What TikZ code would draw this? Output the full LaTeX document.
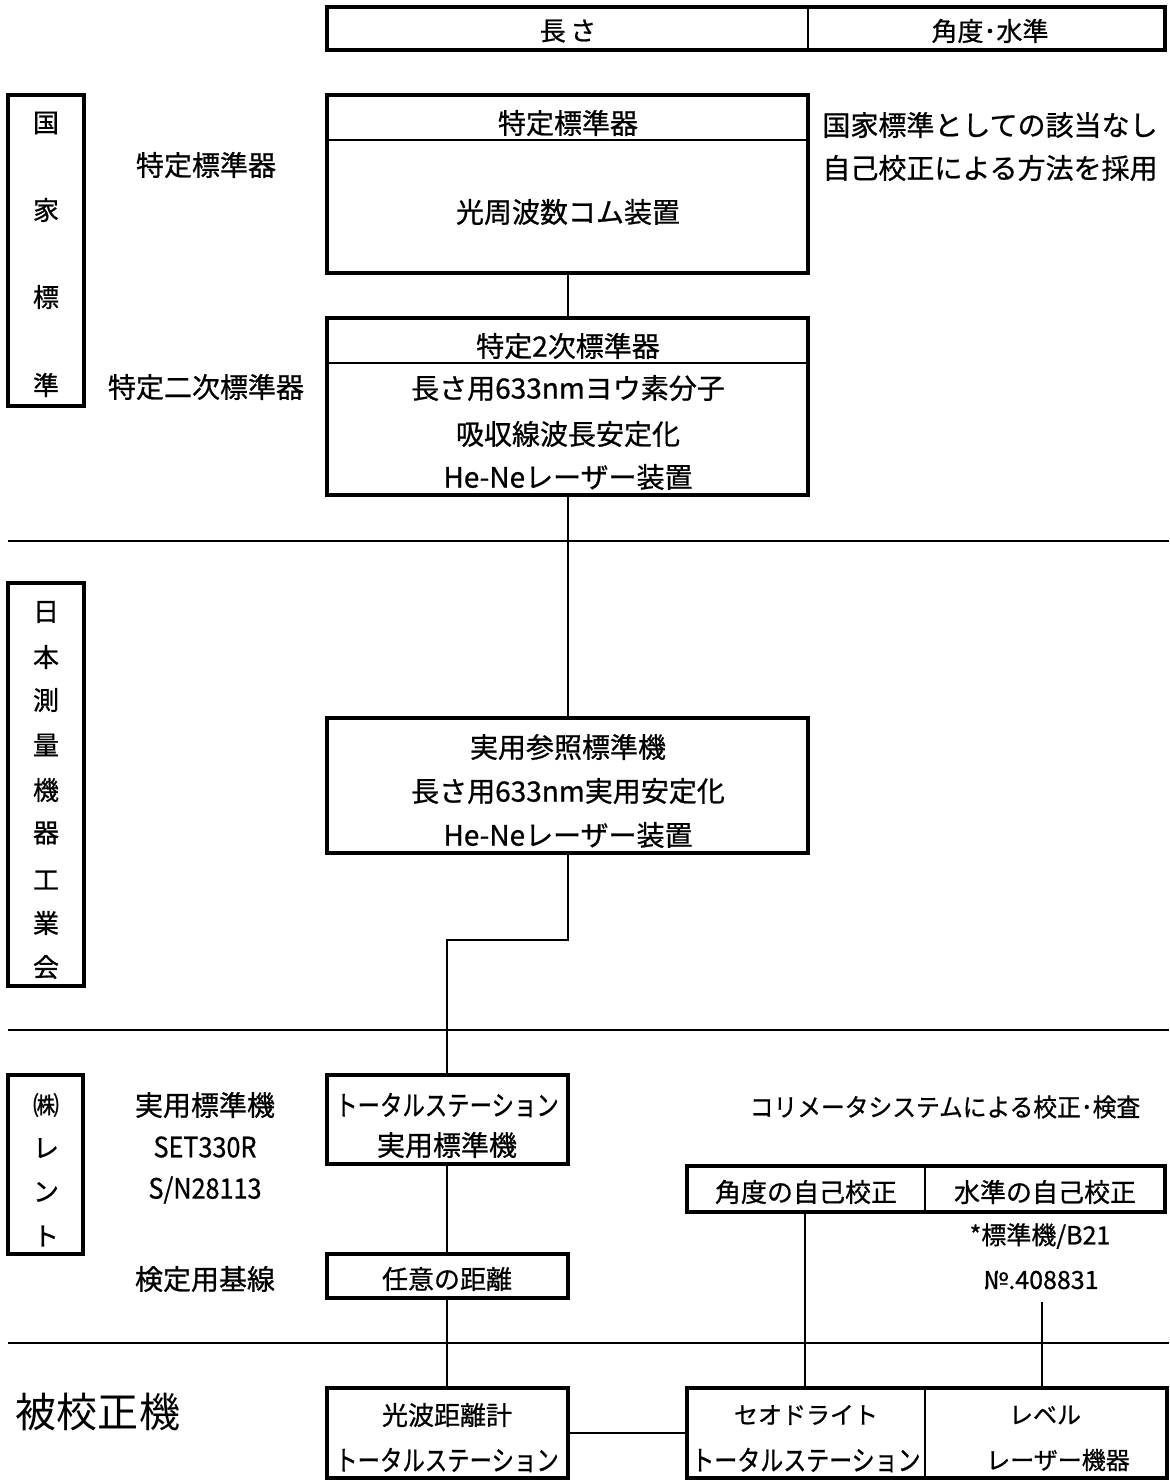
\documentclass[tikz,border=0pt]{standalone}
\usepackage{fontspec}
\setmainfont{Noto Sans CJK JP}
\newfontfamily\medfont{Noto Sans CJK JP}[FakeBold=0.8]
\begin{document}
\begin{tikzpicture}[x=0.5pt,y=-0.5pt,
  box/.style={draw, line width=2pt, inner sep=0pt},
  thin/.style={line width=1pt},
  conn/.style={line width=1pt},
  sep/.style={line width=1pt},
  tx/.style={inner sep=0pt, font=\medfont\fontsize{14}{16}\selectfont},
  tm/.style={inner sep=0pt, font=\medfont\fontsize{13}{14}\selectfont},
  tsm/.style={inner sep=0pt, font=\medfont\fontsize{12.5}{14}\selectfont},
  big/.style={inner sep=0pt, font=\fontsize{20.5}{22}\selectfont}]
\useasboundingbox (0,0) rectangle (1169,1482);

% ---- top header ----
\node[box, minimum width=419pt, minimum height=21.5pt] (top) at (746,28.5) {};
\coordinate (d1) at (808,0);
\draw[line width=1.4pt] (top.north -| d1) -- (top.south -| d1);
\node[tm] (tlen) at (568,31) {長\,さ};
\node[tm] (tang) at (990,31) {角度･水準};

% ---- left category boxes ----
\node[box, minimum width=38pt, minimum height=155.5pt] (L1) at (46,250.5) {};
\foreach \c/\y [count=\i] in {国/123,家/210,標/297,準/385}
  \node[tm] (L1c\i) at (46,\y) {\c};
\node[box, minimum width=38pt, minimum height=201.5pt] (L2) at (46,784.5) {};
\foreach \c/\y [count=\i] in {日/612,本/657,測/700,量/745,機/790,器/833,工/880,業/923,会/967}
  \node[tm] (L2c\i) at (46,\y) {\c};
\node[box, minimum width=37.5pt, minimum height=89.5pt] (L3) at (45.5,1164.5) {};
\foreach \c/\y [count=\i] in {㈱/1105,レ/1148,ン/1192,ト/1236}
  \node[tm] (L3c\i) at (46,\y) {\c};

% ---- left labels ----
\node[tx] (lab1) at (206,165) {特定標準器};
\node[tx] (lab2) at (206,387) {特定二次標準器};
\node[tx] (lab3) at (205,1105) {実用標準機};
\node[tx] (lab4) at (205,1147) {\scalebox{0.9}[1]{SET330R}};
\node[tx] (lab5) at (205,1190) {\scalebox{0.9}[1]{S/N28113}};
\node[tx] (lab6) at (205,1279) {検定用基線};
\node[big] (lab7) at (98,1412) {被校正機};

% ---- right notes ----
\node[tx] (n1) at (990,125) {国家標準としての該当なし};
\node[tx] (n2) at (990,168) {自己校正による方法を採用};
\node[tsm] (n3) at (945,1107) {\scalebox{0.95}[1]{コリメータシステムによる校正･検査}};

% ---- separators ----
\coordinate (s1a) at (8,541);   \coordinate (s1b) at (1169,541);
\coordinate (s2a) at (8,1030);  \coordinate (s2b) at (1169,1030);
\coordinate (s3a) at (8,1343);  \coordinate (s3b) at (1169,1343);
\draw[sep] (s1a) -- (s1b);
\draw[sep] (s2a) -- (s2b);
\draw[sep] (s3a) -- (s3b);

% ---- 特定標準器 ----
\node[box, minimum width=240.5pt, minimum height=89pt] (sb) at (567.5,184) {};
\coordinate (h1) at (0,140);
\draw[thin] (sb.west |- h1) -- (sb.east |- h1);
\node[tx] (sbt1) at (568,123) {特定標準器};
\node[tx] (sbt2) at (568,212) {光周波数コム装置};

% ---- 特定2次標準器 ----
\node[box, minimum width=240.5pt, minimum height=88.5pt] (s2) at (567.5,406.5) {};
\coordinate (h2) at (0,363);
\draw[thin] (s2.west |- h2) -- (s2.east |- h2);
\node[tx] (s2t1) at (568,346) {特定2次標準器};
\node[tx] (s2t2) at (568,388) {長さ用633nmヨウ素分子};
\node[tx] (s2t3) at (568,434) {吸収線波長安定化};
\node[tx] (s2t4) at (568,477) {He-Neレーザー装置};

% ---- 実用参照標準機 ----
\node[box, minimum width=240.5pt, minimum height=67.5pt] (ref) at (567.5,785.5) {};
\node[tx] (rt1) at (568,747) {実用参照標準機};
\node[tx] (rt2) at (568,791) {長さ用633nm実用安定化};
\node[tx] (rt3) at (568,835) {He-Neレーザー装置};

% ---- トータルステーション 実用標準機 ----
\node[box, minimum width=120.5pt, minimum height=44.5pt] (ts) at (447,1119.5) {};
\node[tx] (tst1) at (447,1105) {\scalebox{0.8}[1]{トータルステーション}};
\node[tx] (tst2) at (447,1145) {実用標準機};

% ---- 任意の距離 ----
\node[box, minimum width=120.5pt, minimum height=22pt] (ky) at (447,1276) {};
\node[tm] (kyt) at (447,1279) {任意の距離};

% ---- 光波距離計 ----
\node[box, minimum width=120.5pt, minimum height=45pt] (hi) at (447,1432.5) {};
\node[tm] (hit1) at (447,1415) {光波距離計};
\node[tx] (hit2) at (447,1460) {\scalebox{0.8}[1]{トータルステーション}};

% ---- 角度/水準 自己校正 ----
\node[box, minimum width=239pt, minimum height=23pt] (ak) at (926,1188.5) {};
\coordinate (d2) at (925,0);
\draw[line width=1.4pt] (ak.north -| d2) -- (ak.south -| d2);
\node[tm] (akt1) at (806,1192) {角度の自己校正};
\node[tm] (akt2) at (1045,1192) {水準の自己校正};
\node[tsm] (b21) at (1040,1236) {*標準機/B21};
\node[tsm] (no) at (1041,1280) {№.408831};

% ---- セオドライト / レベル ----
\node[box, minimum width=240pt, minimum height=45pt] (th) at (927,1432.5) {};
\draw[line width=1.4pt] (th.north -| d2) -- (th.south -| d2);
\node[tx,font=\medfont\fontsize{12}{14}\selectfont] (tht1) at (806,1415) {セオドライト};
\node[tx] (tht2) at (806,1460) {\scalebox{0.82}[1]{トータルステーション}};
\node[tx,font=\medfont\fontsize{12}{14}\selectfont] (tht3) at (1045,1415) {レベル};
\node[tx,font=\medfont\fontsize{12}{14}\selectfont] (tht4) at (1058,1460) {レーザー機器};

% ---- connectors ----
\coordinate (k1) at (447,940);
\coordinate (c805) at (805,0);
\coordinate (c1042) at (1042,1302);
\draw[conn] (sb.south) -- (s2.north);
\draw[conn] (s2.south) -- (ref.north);
\draw[conn] (ref.south) |- (k1) -- (ts.north);
\draw[conn] (ts.south) -- (ky.north);
\draw[conn] (ky.south) -- (hi.north);
\draw[conn] (hi.east) -- (th.west);
\draw[conn] (ak.south -| c805) -- (th.north -| c805);
\draw[conn] (c1042) -- (th.north -| c1042);
\end{tikzpicture}
\end{document}
